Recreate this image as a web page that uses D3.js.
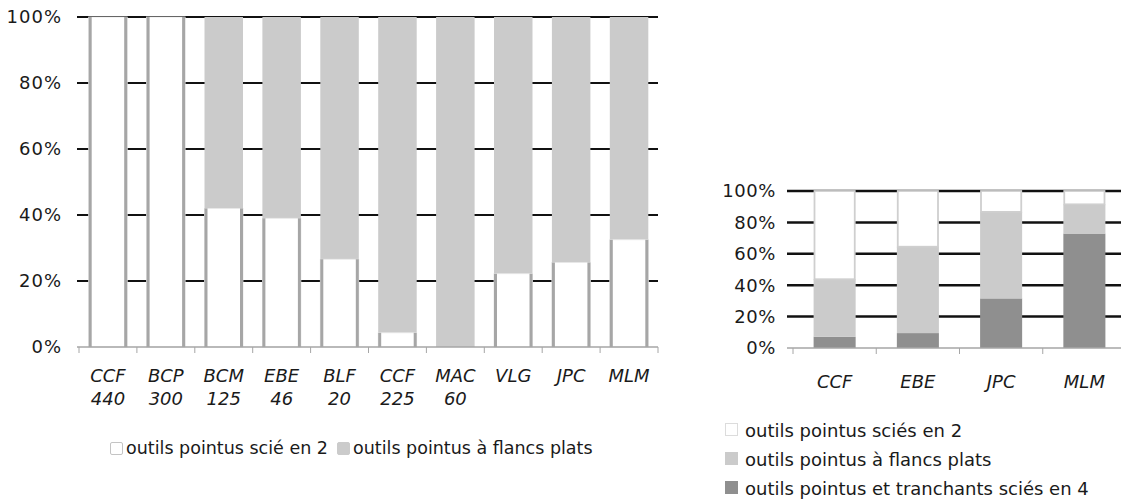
<!DOCTYPE html>
<html>
<head>
<meta charset="utf-8">
<script src="https://cdn.jsdelivr.net/npm/d3@7"></script>
<style>
  body { margin: 0; background: #fff; }
  svg { display: block; font-family: "DejaVu Sans", Verdana, sans-serif; }
</style>
</head>
<body>
<svg width="1121" height="499"></svg>
<script>
// left chart: share of the two tool types per site
var leftSites = ["CCF", "BCP", "BCM", "EBE", "BLF", "CCF", "MAC", "VLG", "JPC", "MLM"];
var leftCounts = ["440", "300", "125", "46", "20", "225", "60", "", "", ""];
var leftSawn2 = [100, 100, 42, 39, 26.6, 4.3, 0, 22.2, 25.6, 32.5];
var leftFlat = [0, 0, 58, 61, 73.4, 95.7, 100, 77.8, 74.4, 67.5];

// right chart: three tool types
var rightSites = ["CCF", "EBE", "JPC", "MLM"];
var rightSawn4 = [7.2, 9.5, 31.6, 72.9];
var rightFlat = [36.6, 55, 55.1, 18.6];
var rightSawn2 = [56.2, 35.5, 13.3, 8.5];

var yTicks = [0, 20, 40, 60, 80, 100];
var legendLeft = ["outils pointus scié en 2", "outils pointus à flancs plats"];
var legendRight = ["outils pointus sciés en 2", "outils pointus à flancs plats", "outils pointus et tranchants sciés en 4"];

var WHITE = "#ffffff", LIGHT = "#cbcbcb", DARK = "#8f8f8f", EDGE = "#a6a6a6";

var svg = d3.select("svg");

// ---------- left chart ----------
var x1 = d3.scaleBand()
    .domain(d3.range(leftSites.length))
    .range([79, 658])
    .paddingInner(0.335)
    .paddingOuter(0.1675);
var y1 = d3.scaleLinear().domain([0, 100]).range([347, 17]);

var g1 = svg.append("g");

// gridlines
g1.selectAll("line.grid")
    .data(yTicks.filter(function(d) { return d > 0; }))
    .enter().append("line")
    .attr("x1", 77).attr("x2", 658)
    .attr("y1", function(d) { return y1(d); })
    .attr("y2", function(d) { return y1(d); })
    .attr("stroke", "#111").attr("stroke-width", 2);

// gray segment on top
g1.selectAll("rect.flat")
    .data(leftFlat)
    .enter().append("rect")
    .attr("x", function(d, i) { return x1(i); })
    .attr("width", x1.bandwidth())
    .attr("y", function(d, i) { return y1(leftSawn2[i] + d); })
    .attr("height", function(d, i) { return y1(leftSawn2[i]) - y1(leftSawn2[i] + d); })
    .attr("fill", LIGHT);

// white segment, gray sides
var sawn = leftSawn2.map(function(d, i) { return {v: d, i: i}; })
    .filter(function(d) { return d.v > 0; });

g1.selectAll("rect.sawn")
    .data(sawn)
    .enter().append("rect")
    .attr("x", function(d) { return x1(d.i); })
    .attr("width", x1.bandwidth())
    .attr("y", function(d) { return y1(d.v); })
    .attr("height", function(d) { return y1(0) - y1(d.v); })
    .attr("fill", WHITE)
    .attr("stroke", "#e4e4e4").attr("stroke-width", 0.8);

sawn.forEach(function(d) {
    [x1(d.i) + 1.5, x1(d.i) + x1.bandwidth() - 1.5].forEach(function(xx) {
        g1.append("line")
            .attr("x1", xx).attr("x2", xx)
            .attr("y1", y1(d.v)).attr("y2", y1(0))
            .attr("stroke", EDGE).attr("stroke-width", 3);
    });
});

// x axis line and ticks
g1.append("line")
    .attr("x1", 77).attr("x2", 658)
    .attr("y1", y1(0)).attr("y2", y1(0))
    .attr("stroke", EDGE).attr("stroke-width", 1.5);
g1.selectAll("line.xt")
    .data(d3.range(leftSites.length + 1))
    .enter().append("line")
    .attr("x1", function(d) { return 79 + d * x1.step(); })
    .attr("x2", function(d) { return 79 + d * x1.step(); })
    .attr("y1", y1(0)).attr("y2", y1(0) + 6)
    .attr("stroke", EDGE).attr("stroke-width", 1);

// y labels
g1.selectAll("text.yl")
    .data(yTicks)
    .enter().append("text")
    .attr("x", 62)
    .attr("y", function(d) { return y1(d); })
    .attr("dy", "0.36em")
    .attr("text-anchor", "end")
    .attr("font-size", 18)
    .attr("letter-spacing", 1)
    .attr("fill", "#1a1a1a")
    .text(function(d) { return d + "%"; });

// x labels, two lines
var xl = g1.selectAll("text.xl")
    .data(leftSites)
    .enter().append("text")
    .attr("text-anchor", "middle")
    .attr("font-size", 18)
    .attr("font-style", "italic")
    .attr("fill", "#1a1a1a");
xl.append("tspan")
    .attr("x", function(d, i) { return x1(i) + x1.bandwidth() / 2; })
    .attr("y", 382)
    .text(function(d) { return d; });
xl.append("tspan")
    .attr("x", function(d, i) { return x1(i) + x1.bandwidth() / 2; })
    .attr("y", 405)
    .text(function(d, i) { return leftCounts[i]; });

// left legend
var legL = [{x: 110, fill: WHITE, stroke: "#c4c4c4"}, {x: 337, fill: LIGHT, stroke: LIGHT}];
legL.forEach(function(l, i) {
    svg.append("rect")
        .attr("x", l.x + 0.5).attr("y", 442.5)
        .attr("width", 12).attr("height", 12).attr("rx", 1.5)
        .attr("fill", l.fill).attr("stroke", l.stroke);
    svg.append("text")
        .attr("x", l.x + 16).attr("y", 454)
        .attr("font-size", 17.5).attr("fill", "#1a1a1a")
        .text(legendLeft[i]);
});

// ---------- right chart ----------
var x2 = d3.scaleBand()
    .domain(d3.range(rightSites.length))
    .range([793, 1126])
    .paddingInner(0.495)
    .paddingOuter(0.2475);
var y2 = d3.scaleLinear().domain([0, 100]).range([348, 191]);

var g2 = svg.append("g");

g2.selectAll("line.grid")
    .data(yTicks.filter(function(d) { return d > 0; }))
    .enter().append("line")
    .attr("x1", 787).attr("x2", 1126)
    .attr("y1", function(d) { return y2(d); })
    .attr("y2", function(d) { return y2(d); })
    .attr("stroke", "#111").attr("stroke-width", 2.5);

var rows = rightSites.map(function(s, i) {
    return {i: i, sawn4: rightSawn4[i], flat: rightFlat[i], sawn2: rightSawn2[i]};
});
var stack = d3.stack().keys(["sawn4", "flat", "sawn2"])(rows);
var fills = {sawn4: DARK, flat: LIGHT, sawn2: WHITE};

stack.forEach(function(layer) {
    var inset = layer.key === "sawn2" ? 0.9 : 0;
    g2.append("g")
        .attr("fill", fills[layer.key])
        .attr("stroke", layer.key === "sawn2" ? "#cfcfcf" : "none")
        .attr("stroke-width", 1.8)
        .selectAll("rect")
        .data(layer)
        .enter().append("rect")
        .attr("x", function(d) { return x2(d.data.i) + inset; })
        .attr("width", x2.bandwidth() - 2 * inset)
        .attr("y", function(d) { return y2(d[1]); })
        .attr("height", function(d) { return y2(d[0]) - y2(d[1]); });
});

g2.append("line")
    .attr("x1", 787).attr("x2", 1126)
    .attr("y1", y2(0)).attr("y2", y2(0))
    .attr("stroke", EDGE).attr("stroke-width", 1.5);
g2.selectAll("line.xt")
    .data(d3.range(rightSites.length + 1))
    .enter().append("line")
    .attr("x1", function(d) { return 793 + d * x2.step(); })
    .attr("x2", function(d) { return 793 + d * x2.step(); })
    .attr("y1", y2(0)).attr("y2", y2(0) + 6)
    .attr("stroke", EDGE).attr("stroke-width", 1);

g2.selectAll("text.yl")
    .data(yTicks)
    .enter().append("text")
    .attr("x", 776)
    .attr("y", function(d) { return y2(d); })
    .attr("dy", "0.36em")
    .attr("text-anchor", "end")
    .attr("font-size", 18)
    .attr("letter-spacing", 0.6)
    .attr("fill", "#1a1a1a")
    .text(function(d) { return d + "%"; });

g2.selectAll("text.xl")
    .data(rightSites)
    .enter().append("text")
    .attr("x", function(d, i) { return x2(i) + x2.bandwidth() / 2; })
    .attr("y", 388)
    .attr("text-anchor", "middle")
    .attr("font-size", 18)
    .attr("font-style", "italic")
    .attr("fill", "#1a1a1a")
    .text(function(d) { return d; });

// right legend
var legR = [{fill: WHITE, stroke: "#dcdcdc"}, {fill: LIGHT, stroke: LIGHT}, {fill: DARK, stroke: DARK}];
legR.forEach(function(l, i) {
    svg.append("rect")
        .attr("x", 725.5).attr("y", 423.5 + i * 29)
        .attr("width", 12).attr("height", 12)
        .attr("fill", l.fill).attr("stroke", l.stroke);
    svg.append("text")
        .attr("x", 745).attr("y", 437 + i * 29)
        .attr("font-size", 18).attr("fill", "#1a1a1a")
        .text(legendRight[i]);
});
</script>
</body>
</html>
